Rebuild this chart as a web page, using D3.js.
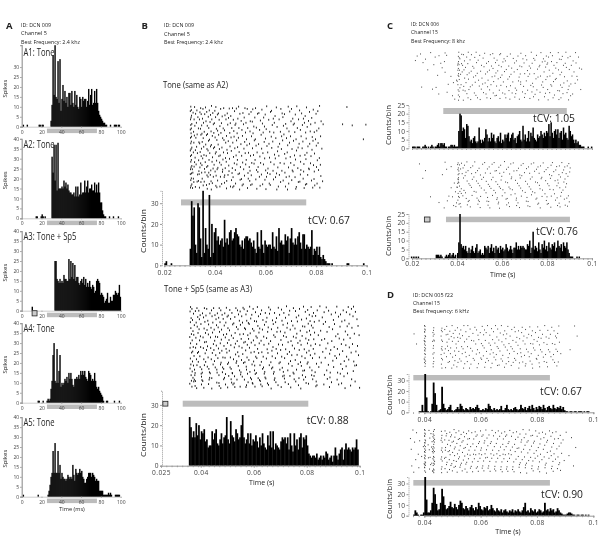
<!DOCTYPE html>
<html>
<head>
<meta charset="utf-8">
<title>Spike histograms</title>
<script src="https://cdnjs.cloudflare.com/ajax/libs/d3/7.8.5/d3.min.js"></script>
<style>
  html, body { margin: 0; background: #fff; }
  svg { display: block; filter: blur(0.4px); }
  text { font-family: "Open Sans", "Noto Sans", sans-serif; fill: #222; }
  .tick text { fill: #444; }
  .domain, .tick line { stroke: #999; }
</style>
</head>
<body>
<svg id="chart" width="602" height="540"></svg>
<script>
// Panel A: counts per 1 ms bin, 0-99 ms
var a1Counts = [0,1,0,0,0,1,0,0,0,0, 0,0,0,0,0,0,0,1,1,0, 1,1,0,0,0,0,0,0,0,3,
  11,36,16,41,15,14,33,12,34,8, 14,21,13,18,12,15,10,17,17,11, 18,12,10,18,11,16,10,9,15,14,
  10,15,13,14,14,10,13,19,11,16, 19,11,12,18,12,19,12,8,6,5, 4,3,2,2,1,1,0,0,0,1, 0,0,0,1,1,1,0,1,1,0];
var a2Counts = [0,0,0,0,0,0,0,0,0,0, 0,0,0,0,1,1,0,0,0,1, 2,1,0,1,0,0,0,0,0,0,
  31,23,37,19,37,14,38,15,15,15, 16,15,19,16,18,15,17,14,13,13, 12,12,13,11,16,11,16,11,12,18,
  12,13,13,19,13,16,19,13,15,15, 17,14,14,18,13,17,13,18,13,8, 8,4,2,1,1,0,0,0,1,0, 0,0,1,0,0,0,0,1,0,0];
var a3Counts = [0,0,0,0,0,0,0,0,0,0, 2,0,0,0,0,0,0,0,0,0, 0,0,0,0,0,0,0,0,0,0,
  0,0,0,25,25,16,15,14,16,14, 15,14,18,16,16,15,15,26,16,25, 17,24,16,23,15,17,17,14,13,15,
  16,14,17,13,16,12,14,12,15,12, 11,13,12,9,10,15,16,15,14,8, 9,8,7,4,5,6,9,4,4,7, 5,5,8,8,10,9,8,9,13,7];
var a4Counts = [0,0,0,0,0,0,0,0,0,0, 0,0,0,0,0,0,1,1,0,0, 0,1,0,0,0,1,2,1,2,7,
  11,24,30,11,10,27,10,16,24,8, 10,9,10,12,11,13,10,15,12,15, 12,9,8,12,12,13,12,14,12,16,
  14,16,14,16,13,12,11,16,15,14, 11,12,11,15,11,8,7,8,6,5, 4,3,1,0,0,1,1,0,0,0, 0,0,0,1,0,0,0,0,1,0];
var a5Counts = [0,1,0,0,0,0,0,0,0,0, 0,0,0,0,0,0,1,0,0,0, 0,0,0,0,0,0,1,3,6,10,
  12,23,12,27,12,12,23,12,16,9, 12,10,9,9,8,9,11,10,9,10, 9,16,11,8,14,12,11,12,14,12,
  13,10,9,7,7,9,10,12,12,12, 10,12,11,10,8,9,8,8,3,3, 3,3,1,1,1,1,1,2,1,2, 1,0,0,0,1,1,1,1,1,0];
var aStim = [25.5, 76];
var aTitles = ['A1: Tone', 'A2: Tone', 'A3: Tone + Sp5', 'A4: Tone', 'A5: Tone'];

// Panel B, C, D: counts per 0.5 ms bin
var bToneStart = 0.02;
var bToneCounts = [1,2,0,0,0,1,0,0,0,0, 0,0,0,0,0,0,0,0,0,0,
  8,31,24,28,10,6,30,28,13,4, 36,6,18,10,8,34,4,20,6,16,
  18,12,14,10,12,13,9,22,11,13, 10,16,17,12,13,16,18,15,14,10,
  9,12,8,13,14,14,12,13,11,9, 12,8,6,16,9,8,17,10,6,12,
  10,9,10,10,8,16,9,8,14,7, 18,11,12,10,10,15,12,14,6,13,
  18,11,10,13,10,14,16,11,8,15, 15,8,10,9,8,9,17,5,8,7,
  9,5,9,4,3,5,3,2,1,1, 1,0,1,0,0,0,0,0,0,0,
  0,0,0,0,1,1,0,0,0,0, 0,0,0,0,0,0,0,1,0,0];
var bSp5Start = 0.0355;
var bSp5Counts = [24,19,14,17,14,21,15,20,13,17, 16,18,12,13,9,10,10,17,13,16,
  18,11,10,13,16,11,14,15,24,13, 11,22,15,14,12,18,16,13,14,20,
  25,14,11,13,16,11,16,10,13,12, 15,12,9,14,10,16,11,9,8,15,
  10,17,9,17,8,11,10,9,8,12, 14,13,14,11,14,8,16,10,7,16,
  10,13,8,14,16,9,14,13,15,10, 6,5,4,5,5,4,6,3,4,5,
  3,5,4,7,6,3,4,5,2,5, 9,5,3,6,8,9,3,8,11,8, 9,8,7,9,8,9,13,8];
var cStart = 0.0195;
var cTopCounts = [0,1,1,1,0,1,1,1,0,0, 1,1,2,1,0,1,0,1,2,1, 0,1,1,2,3,1,3,3,2,3, 1,1,0,1,1,2,2,1,2,1, 1,1,
  10,20,19,10,12,11,6,14,13,7, 4,5,3,6,7,4,3,4,12,5, 3,5,4,6,11,8,4,6,4,9, 6,8,4,3,6,7,4,9,3,5,
  4,8,6,8,9,4,6,8,9,5, 6,3,7,8,10,5,4,13,5,8, 4,6,10,4,9,7,12,6,5,4, 8,6,7,10,8,6,9,7,10,9,
  14,7,15,9,6,10,11,8,11,6, 9,10,5,12,8,9,6,5,13,10, 7,8,5,3,5,3,4,2,2,1, 1,1,0,0,0,1,0,0,1];
var cBottomCounts = [1,0,1,0,1,0,1,0,0,0, 0,0,0,0,0,0,0,0,0,0, 0,0,2,2,2,1,2,1,0,0, 1,2,1,2,3,1,2,3,1,2, 0,3,
  9,25,8,6,7,5,7,4,3,6, 3,5,7,4,3,6,8,3,4,5, 2,3,2,7,6,5,7,3,6,8, 4,6,3,7,5,6,3,7,5,6,
  4,5,8,6,4,5,7,5,3,6, 6,9,5,7,5,7,6,7,6,5, 5,8,7,10,3,6,15,5,7,6, 4,9,5,3,8,6,10,5,7,4,
  9,6,5,8,7,9,4,6,10,7, 6,8,4,9,7,6,9,5,3,1, 1,1,0,0,0,1,0,1];
var dTopStart = 0.0375;
var dTopCounts = [0,1,1,7,1,36,14,1,0,1, 8,28,18,7,1,2,3,24,8,4, 2,3,5,7,2,1,2,3,5,3,
  8,6,3,2,4,3,2,5,3,4, 3,5,7,4,2,2,3,2,4,3, 8,6,3,2,4,2,3,2,3,6, 2,2,4,7,3,2,3,2,4,5,
  3,2,3,7,4,3,5,2,4,6, 3,7,4,2,5,3,6,5,3,7, 4,2,5,6,4,3,7,4,3,5, 4,6,3,5,2,1,1,0,1,1,
  0,1,1,0,1,1,1,0,1,0, 1,1,0,0,0];
var dBottomStart = 0.0355;
var dBottomCounts = [0,1,5,3,1,0,1,1,3,36, 15,3,3,5,12,26,20,11,5,6, 12,25,18,10,6,7,9,13,8,7,
  11,8,6,10,14,12,7,6,9,7, 5,8,10,7,5,8,6,12,9,6, 5,8,7,9,5,6,10,7,5,4, 7,5,4,6,3,5,6,4,3,5,
  4,6,3,5,4,6,4,3,5,8, 12,4,5,3,7,5,4,6,3,4, 6,5,3,4,12,5,6,4,7,5, 6,3,4,7,5,3,2,1,1,1,
  2,3,3,2,1,1,0,1,1,0, 1,1,0,1,0,1,0,0];

// Rasters: spike times per trial, in 0.1 ms
var bToneRaster = [
  [303,318,342,361,385,402,433,468,492,517,559,603,641,688,722,760,812,920],
  [305,327,351,376,398,421,455,483,526,548,584,622,659,701,733,787],
  [301,312,339,366,390,412,447,476,509,541,572,618,664,694,741,772,805],
  [306,322,344,358,381,408,438,461,497,533,567,597,636,673,716,755,798],
  [304,331,349,372,401,427,452,489,514,556,591,629,667,706,748,781],
  [302,316,337,363,386,415,442,471,502,538,578,611,652,699,729,768,818],
  [307,325,353,379,396,424,459,481,521,546,586,633,678,712,752,794],
  [303,319,346,368,392,418,449,478,511,552,594,625,669,708,744,777,826,903,941,995],
  [305,333,341,374,404,431,465,493,528,562,601,644,683,724,763,809],
  [301,314,356,383,409,436,473,505,537,575,615,657,691,736,775,801],
  [304,328,347,369,394,422,457,486,519,549,589,631,671,714,757,791],
  [306,317,343,365,388,413,444,474,507,543,581,621,662,697,739,783,816],
  [302,323,352,377,399,429,462,491,523,558,598,639,681,719,759,796,985],
  [305,335,348,373,406,434,451,484,516,554,593,627,666,709,746,786],
  [303,315,338,362,384,411,441,469,501,535,571,612,654,693,731,773,806],
  [307,326,354,381,397,426,458,488,525,561,604,648,686,727,766,799],
  [304,321,345,367,393,416,446,477,513,547,583,623,661,703,743,782,821],
  [301,313,340,371,403,432,463,494,531,565,607,646,684,721,762],
  [306,329,355,378,400,419,448,482,518,551,588,634,674,713,754,792],
  [302,320,344,364,389,414,440,472,504,539,576,614,651,696,735,778,811],
  [305,334,350,375,405,430,456,487,522,557,595,637,679,717,758,803],
  [303,318,342,360,387,417,443,475,508,544,579,619,656,698,737,776],
  [307,324,347,370,395,423,453,485,520,553,590,632,672,711,750,788,815],
  [304,316,339,366,391,410,439,467,499,534,569,608,647,689,726,769,800],
  [302,309,335,357,382,407,429,454,479,512,537,563,599,628,663,704,738,771,808],
  [306,311,346,359,374,399,428,466,495,529,568,606,642,675,707,749,791],
  [301,330,336,367,380,403,437,450,490,515,542,582,616,653,692,736,765,817],
  [305,313,348,371,392,420,435,470,503,530,574,602,638,680,715,747,790],
  [303,328,333,356,383,409,445,464,498,536,560,596,630,668,702,734,780,824],
  [307,315,343,376,388,425,436,480,510,545,587,613,658,690,728,761,802],
  [304,321,352,365,402,418,460,473,506,540,577,617,649,677,720,756,793],
  [302,310,337,368,384,406,444,469,496,527,564,600,643,685,718,751,785,813]
];
var bSp5Raster = [
  [360,384,412,447,468,495,531,558,583,612,655,691,722,748,786,815,848,872,912,955,975],
  [365,391,421,439,474,508,537,562,596,628,661,703,734,771,802,838,881,936,967],
  [358,378,405,433,461,489,516,547,574,605,642,677,712,756,793,824,864,907,948,982],
  [371,396,418,452,479,502,541,569,591,624,658,696,731,768,808,832,891,926,961],
  [362,387,409,441,466,498,527,553,587,616,648,684,718,759,797,819,857,918,973],
  [367,393,425,456,483,511,544,572,601,633,669,705,741,779,811,845,899,942,988],
  [359,381,414,444,471,493,523,556,578,609,645,681,726,763,804,827,869,931,958],
  [374,399,428,458,487,519,548,581,614,639,672,709,746,783,816,861,903,951,992],
  [361,385,411,437,464,501,533,564,594,621,653,689,724,754,791,822,883,924,969],
  [369,392,422,449,477,507,539,567,599,631,665,699,736,774,809,851,896,944],
  [363,388,416,443,469,496,528,559,585,618,651,686,716,761,799,828,875,916,978],
  [372,397,427,454,484,514,546,576,607,636,674,711,748,781,813,842,908,953,996],
  [357,380,407,435,462,491,521,551,579,611,647,679,721,758,795,825,866,921,962],
  [366,394,419,451,476,505,536,566,597,626,662,701,739,773,806,855,893,938],
  [360,383,413,446,472,499,529,561,589,619,655,692,728,765,801,831,878,929,971],
  [370,398,424,457,486,512,543,574,603,637,671,707,744,777,814,848,902,946,990],
  [358,379,408,436,465,494,525,554,582,613,649,683,719,752,789,823,871,914,959],
  [368,390,420,448,478,506,538,568,600,629,667,700,733,770,807,859,889,934,984],
  [364,386,415,442,470,497,530,557,588,617,652,688,725,762,798,829,885,922,966],
  [373,395,426,455,482,510,542,573,606,634,668,704,742,780,812,846,905,949,994],
  [359,382,410,438,463,490,522,552,580,610,646,680,715,755,792,820,868,911,957],
  [367,389,417,450,475,503,534,565,598,627,663,698,737,775,803,853,897,940,976],
  [361,384,412,445,473,500,532,560,592,622,657,694,730,766,800,835,880,927,986],
  [371,396,423,453,481,509,540,570,602,635,670,706,743,778,810,844,900,947,980],
  [358,375,402,429,459,485,513,545,571,601,632,666,697,727,760,790,818,874,933],
  [366,377,404,431,460,480,517,550,584,608,640,675,710,747,784,830,887,915,974],
  [362,376,400,434,467,492,518,549,575,604,638,673,713,750,782,817,865,925,952],
  [369,401,432,440,488,504,526,555,586,615,641,678,708,735,769,794,826,886,939],
  [363,374,403,430,485,513,535,563,590,620,644,676,714,751,787,821,876,913,968],
  [372,378,406,459,467,515,524,577,593,623,650,682,717,757,796,834,892,930,981],
  [357,377,401,428,468,492,520,571,595,625,654,690,729,767,805,837,863,919,964],
  [365,383,410,440,474,500,527,547,569,603,630,664,702,738,776,833,884,943,998]
];
var cTopRaster = [
  [236,281,345,406,419,448,483,521,557,592,635,682,728,771,813,848,882,925],
  [221,318,352,404,427,462,499,546,588,621,669,703,751,795,822,866,901],
  [258,301,408,411,441,477,514,563,607,648,691,739,782,805,853,891,938],
  [213,342,405,431,456,492,538,576,613,662,708,744,789,818,861,914],
  [247,326,403,418,446,485,529,569,602,654,696,732,777,801,842,879,927],
  [295,401,407,423,468,507,551,584,628,677,719,766,798,829,871,906],
  [332,404,436,473,518,558,595,641,686,725,763,792,837,884,942],
  [268,402,409,429,461,503,542,579,617,666,711,756,808,849,897,952],
  [345,405,421,452,488,533,571,609,652,699,741,785,824,863,918],
  [312,403,414,443,481,525,566,598,638,679,721,769,811,856,909],
  [371,406,432,471,509,554,591,631,674,714,758,799,839,876,931],
  [396,408,449,494,536,581,624,671,706,749,793,835,888,934],
  [382,399,438,479,523,561,604,646,681,734,779,827,873,923],
  [359,402,416,466,512,549,593,636,681,726,774,815,858,904],
  [241,305,411,428,457,497,534,574,618,657,694,737,781,819,865,896],
  [289,403,425,451,506,543,586,629,663,712,753,801,846,892,948],
  [354,407,434,475,516,559,601,643,689,731,767,810,854,887],
  [317,404,442,482,527,573,611,659,701,745,791,831,869,912],
  [378,409,447,489,531,567,615,655,698,738,787,825,860,903],
  [388,405,426,459,501,547,589,633,675,722,761,803,851,894]
];
var cBottomRaster = [
  [345,403,418,442,477,521,563,609,648,692,739,781,822,864,895],
  [231,401,409,431,468,512,554,592,637,683,728,769,816,853,888],
  [372,404,425,459,496,541,584,626,671,716,758,802,841,877,901],
  [258,352,402,414,447,489,533,573,618,664,707,751,794,837,872],
  [406,438,481,524,567,606,651,698,743,786,828,866,899],
  [333,403,407,421,463,502,546,588,632,677,721,763,809,851,883],
  [405,434,473,516,558,597,641,686,732,775,819,858,891],
  [246,402,404,427,466,508,551,594,639,679,724,772,813,846,878],
  [404,443,485,528,571,614,658,703,747,792,834,873],
  [386,401,406,451,492,537,579,623,667,711,756,801,848,885],
  [398,409,456,499,543,586,629,674,719,764,807,842,881],
  [372,399,417,462,506,549,591,634,681,726,767,811,855],
  [391,411,429,474,519,562,602,644,689,734,778,826,869],
  [403,417,436,483,527,569,611,656,701,744,789,831,862],
  [362,405,424,465,503,556,599,638,684,729,776,817,859,893],
  [280,378,408,439,487,534,577,621,662,709,753,798,843,886],
  [355,402,452,493,531,575,616,661,706,749,795,836,875],
  [318,396,412,448,497,539,583,627,669,714,761,804,852,897],
  [383,407,444,491,536,581,619,663,713,757,799,845,879],
  [341,393,415,457,501,544,587,631,676,722,768,815,856,889]
];
var dTopRaster = [
  [399,401,432,461,478,497,516,539,553,578,604,623,651,672,695,718,746,773,801,826,851,876,932],
  [400,402,431,459,471,489,508,528,561,584,612,637,659,684,709,733,758,782,809,837,859],
  [362,399,400,429,433,462,482,501,523,546,571,597,618,644,668,691,721,744,769,793,818,846,872],
  [401,403,430,458,476,494,517,534,557,589,609,631,656,679,703,727,752,779,804,831,864,941],
  [398,400,432,460,486,504,526,549,566,592,615,641,663,688,713,737,763,788,813,841,868],
  [400,401,428,434,463,479,498,519,541,574,601,628,649,674,699,724,749,776,799,823,853,878],
  [371,399,402,431,461,481,511,531,552,581,606,633,657,681,706,731,756,784,807,834,862],
  [400,403,430,459,473,492,513,536,563,587,611,636,661,686,711,739,761,786,811,839,866,916],
  [399,401,433,462,484,506,521,544,569,594,619,643,667,693,717,741,767,791,816,844,871],
  [400,402,429,458,469,491,509,533,558,583,608,632,654,677,701,729,754,778,803,829,857,883],
  [398,401,431,460,477,499,524,547,572,599,621,646,671,696,719,743,771,796,821,848],
  [400,403,432,463,488,507,529,551,576,602,626,652,676,698,723,748,774,798,824,855,874],
  [399,402,430,459,483,503,518,542,564,591,616,639,664,689,714,736,759,781,806,833,861],
  [401,430,461,474,496,514,538,559,586,613,635,658,683,707,734,757,783,808,836,869]
];
var dBottomRaster = [
  [358,399,401,415,431,434,459,472,489,504,521,538,556,579,598,617,639,661,684,702,726,749,771,794,818,843,866,902],
  [371,400,402,422,430,433,461,478,495,511,529,548,567,586,607,628,651,673,691,714,738,759,783,806,829,854,881],
  [349,399,400,418,429,432,460,476,492,507,524,541,559,582,603,621,644,666,687,708,731,753,777,799,823,848,874,921],
  [382,401,403,426,431,435,458,471,486,502,519,536,553,574,594,613,636,658,679,699,722,744,767,789,812,836,861,891],
  [364,400,401,412,432,434,462,481,497,514,532,551,571,591,611,633,654,677,696,719,742,763,786,809,833,857,884],
  [395,399,402,424,430,433,461,474,491,508,526,544,563,584,601,624,647,669,689,711,734,756,779,803,826,851,877,936],
  [352,400,403,416,428,431,459,473,488,505,522,539,557,578,599,619,641,663,682,704,728,751,773,796,821,846,869],
  [377,399,401,427,430,434,463,483,499,516,534,552,573,593,614,635,656,678,698,721,743,766,788,811,835,859,886],
  [389,400,402,419,431,433,460,475,490,506,523,542,561,581,602,622,645,667,686,707,732,754,776,801,824,849,873,912],
  [368,399,401,413,429,432,458,470,487,503,520,537,555,576,596,616,638,659,681,701,724,746,769,792,816,841,864,895],
  [398,401,403,425,432,435,462,479,496,512,530,549,569,589,609,631,653,674,694,716,739,761,784,807,831,855,879],
  [354,400,402,421,430,434,461,477,493,509,527,546,565,587,606,627,649,671,692,713,736,758,781,804,828,852,876,928],
  [379,399,400,417,431,433,459,472,488,504,525,543,562,583,604,625,648,670,690,712,735,757,780,802,827,850,871],
  [361,400,403,428,429,432,460,480,498,515,533,550,570,590,610,632,652,675,695,717,740,762,785,808,832,856,882]
];

var svg = d3.select('#chart');

// Axis labels, titles etc. width pins the text to what the picture shows
function label(x, y, str, size, width, opts) {
  opts = opts || {};
  var t = svg.append('text')
    .attr('x', x).attr('y', y)
    .attr('font-size', size)
    .attr('text-anchor', opts.anchor || 'start')
    .attr('font-weight', opts.bold ? 700 : 400)
    .text(str);
  if (width) t.attr('textLength', width).attr('lengthAdjust', 'spacingAndGlyphs');
  if (opts.rotate) t.attr('transform', 'rotate(-90 ' + x + ' ' + y + ')');
  return t;
}

function infoBlock(letter, lx, ly, x, ys, lines, widths) {
  label(lx, ly, letter, 9.5, 0, {bold: true});
  lines.forEach(function(line, i) {
    label(x, ys[i], line, 5.4, widths[i]);
  });
}

function drawBars(g, counts, start, bin, x, y) {
  g.selectAll('rect.bar')
    .data(counts.map(function(c, i) { return {c: c, t: start + i * bin}; }).filter(function(d) { return d.c > 0; }))
    .enter().append('rect')
    .attr('class', 'bar')
    .attr('x', function(d) { return x(d.t); })
    .attr('width', x(start + bin) - x(start) + 0.4)
    .attr('y', function(d) { return y(d.c); })
    .attr('height', function(d) { return y(0) - y(d.c); })
    .attr('fill', '#000');
}

function drawStim(stim, x, top, height) {
  svg.append('rect')
    .attr('x', x(stim[0])).attr('width', x(stim[1]) - x(stim[0]))
    .attr('y', top).attr('height', height)
    .attr('fill', '#bcbcbc');
}

function drawMarker(t0, t1, x, top, height) {
  svg.append('rect')
    .attr('x', x(t0)).attr('width', x(t1) - x(t0))
    .attr('y', top).attr('height', height)
    .attr('fill', '#ccc').attr('stroke', '#222').attr('stroke-width', 0.8);
}

// Trial rows are closer than the lists suggest, so spread each row a bit by spike time
function drawRaster(rows, x, top, bottom, color, dotH) {
  var rowY = d3.scaleLinear().domain([0, rows.length]).range([top, bottom]);
  var step = rowY(1) - rowY(0);
  var spikes = [];
  rows.forEach(function(times, r) {
    times.forEach(function(v) {
      spikes.push({t: v / 10000, y: rowY(r) + (v % 7) * step / 7});
    });
  });
  svg.append('g').selectAll('rect')
    .data(spikes)
    .enter().append('rect')
    .attr('x', function(d) { return x(d.t); })
    .attr('y', function(d) { return d.y; })
    .attr('width', 0.9).attr('height', dotH)
    .attr('fill', color);
}

// Panel A histogram: ms axis, 5-spike ticks
var aX = d3.scaleLinear().domain([0, 100]).range([21.7, 120.7]);
var aTicksX = [0, 20, 40, 60, 80, 100];

function panelA(counts, baseline, title, titleWidth, yTicks, yMax, stimTop) {
  var y = d3.scaleLinear().domain([0, 40]).range([baseline, baseline - 79.5]);
  drawStim(aStim, aX, stimTop, 4.5);
  var g = svg.append('g');
  drawBars(g, counts, 0, 1, aX, y);
  var ya = svg.append('g').attr('transform', 'translate(21.7,0)')
    .call(d3.axisLeft(d3.scaleLinear().domain([0, yMax]).range([y(0), y(yMax)])).tickValues(yTicks).tickSize(1.5).tickPadding(1));
  ya.selectAll('text').attr('font-size', 5);
  ya.select('.domain').attr('stroke', '#bbb').attr('stroke-width', 1.2);
  var xa = svg.append('g').attr('transform', 'translate(0,' + baseline + ')')
    .call(d3.axisBottom(aX).tickValues(aTicksX).tickSize(1).tickPadding(2.5));
  xa.selectAll('text').attr('font-size', 5);
  xa.select('.domain').attr('stroke', '#555').attr('stroke-width', 0.5);
  label(23.5, baseline - 70.5, title, 10.5, titleWidth);
  label(7.5, baseline - 38, 'Spikes', 6, 0, {anchor: 'middle', rotate: true});
  return y;
}

// Panel B, C, D histogram with light axes and minor ticks
function panelHist(p) {
  var x = p.x, y = p.y;
  if (p.stim) drawStim(p.stim, x, p.stimTop, p.stimH);
  var g = svg.append('g');
  drawBars(g, p.counts, p.start, 0.0005, x, y);
  var minor = d3.range(p.minorFrom, 0.1001, 0.002);
  var xa = svg.append('g').attr('transform', 'translate(0,' + y(0) + ')')
    .call(d3.axisBottom(x).tickValues(minor).tickSize(1.5).tickFormat(''));
  xa.select('.domain').attr('stroke', '#aaa');
  if (p.xTicks) {
    var xl = svg.append('g').attr('transform', 'translate(0,' + y(0) + ')')
      .call(d3.axisBottom(x).tickValues(p.xTicks).tickSize(2).tickPadding(p.labelPad).tickFormat(function(d) {
        return String(+d.toFixed(3));
      }));
    xl.selectAll('text').attr('font-size', 6.6).attr('letter-spacing', 0.4);
    xl.select('.domain').remove();
  }
  var ya = svg.append('g').attr('transform', 'translate(' + p.axisX + ',0)')
    .call(d3.axisLeft(y).tickValues(p.yTicks).tickSize(2).tickPadding(1.5));
  ya.selectAll('text').attr('font-size', p.yFont || 6.6);
  ya.select('.domain').attr('stroke', '#aaa').attr('stroke-dasharray', '1 1');
  label(p.ylabelX, p.ylabelY, 'Counts/bin', 8, p.ylabelW, {anchor: 'middle', rotate: true});
  label(p.tcvX, p.tcvY, p.tcv, 10.5, 42);
  if (p.timeX) label(p.timeX, p.timeY, 'Time (s)', 7, 0, {anchor: 'middle'});
}

// Panel A
infoBlock('A', 6, 29, 21, [27, 35, 44], ['ID: DCN 009', 'Channel 5', 'Best Frequency: 2.4 khz'], [30, 26, 59]);
var aTick30 = d3.range(0, 31, 5), aTick40 = d3.range(0, 41, 5);
panelA(a1Counts, 126.7, aTitles[0], 31, aTick30, 41, 128.6);
panelA(a2Counts, 218.3, aTitles[1], 31, aTick40, 40, 220.6);
var a3Y = panelA(a3Counts, 310.7, aTitles[2], 53, aTick40, 40, 312.7);
drawMarker(10.5, 15.5, aX, a3Y(0), 5.2);
panelA(a4Counts, 402.7, aTitles[3], 31, aTick40, 40, 404.5);
panelA(a5Counts, 496.7, aTitles[4], 31, aTick40, 40, 498.6);
label(72, 511, 'Time (ms)', 5.6, 0, {anchor: 'middle'});

// Panel B
infoBlock('B', 141.5, 29, 164, [27, 36, 44], ['ID: DCN 009', 'Channel 5', 'Best Frequency: 2.4 khz'], [30, 26, 59]);
label(163, 88, 'Tone (same as A2)', 9, 65);
label(164, 292, 'Tone + Sp5 (same as A3)', 9, 88);

var bToneX = d3.scaleLinear().domain([0.02, 0.1]).range([164.3, 366.7]);
drawRaster(bToneRaster, bToneX, 105, 189, '#111', 1.8);
panelHist({
  x: bToneX, y: d3.scaleLinear().domain([0, 36]).range([265.3, 190.8]),
  counts: bToneCounts, start: bToneStart, stim: [0.0266, 0.0761], stimTop: 199.4, stimH: 6,
  minorFrom: 0.02, xTicks: [0.02, 0.04, 0.06, 0.08, 0.1], labelPad: 3.5, axisX: 162,
  yTicks: [0, 10, 20, 30], ylabelX: 146, ylabelY: 231, ylabelW: 44,
  tcv: 'tCV: 0.67', tcvX: 308, tcvY: 224
});

var bSp5X = d3.scaleLinear().domain([0.025, 0.1]).range([161, 359.7]);
drawRaster(bSp5Raster, bSp5X, 305, 388, '#000', 1.8);
panelHist({
  x: bSp5X, y: d3.scaleLinear().domain([0, 37]).range([465.7, 390.7]),
  counts: bSp5Counts, start: bSp5Start, stim: [0.0332, 0.0806], stimTop: 400.7, stimH: 6,
  minorFrom: 0.025, xTicks: [0.025, 0.04, 0.06, 0.08, 0.1], labelPad: 3, axisX: 162,
  yTicks: [0, 10, 20, 30], ylabelX: 146, ylabelY: 435, ylabelW: 44,
  tcv: 'tCV: 0.88', tcvX: 306.7, tcvY: 424, timeX: 261.7, timeY: 485
});
drawMarker(0.0257, 0.0276, bSp5X, 401.3, 4.8);

// Panel C
infoBlock('C', 387, 29, 411, [26, 34, 43], ['ID: DCN 006', 'Channel 15', 'Best Frequency: 8 khz'], [28, 27, 54]);
var cX = d3.scaleLinear().domain([0.02, 0.1]).range([412, 592]);
drawRaster(cTopRaster, cX, 51.7, 100, '#444', 1.1);
panelHist({
  x: cX, y: d3.scaleLinear().domain([0, 25]).range([148.3, 105]),
  counts: cTopCounts, start: cStart, stim: [0.0339, 0.0888], stimTop: 108, stimH: 6,
  minorFrom: 0.02, axisX: 408.5,
  yTicks: [0, 5, 10, 15, 20, 25], ylabelX: 391, ylabelY: 125, ylabelW: 40,
  tcv: 'tCV: 1.05', tcvX: 533, tcvY: 122
});
drawRaster(cBottomRaster, cX, 161, 208, '#444', 1.1);
panelHist({
  x: cX, y: d3.scaleLinear().domain([0, 25]).range([258.3, 214]),
  counts: cBottomCounts, start: cStart, stim: [0.0351, 0.0902], stimTop: 216.7, stimH: 5.5,
  minorFrom: 0.02, xTicks: [0.02, 0.04, 0.06, 0.08, 0.1], labelPad: 1.5, axisX: 408.5,
  yTicks: [0, 5, 10, 15, 20, 25], ylabelX: 391, ylabelY: 236, ylabelW: 40,
  tcv: 'tCV: 0.76', tcvX: 536, tcvY: 234.7, timeX: 502.7, timeY: 276.5
});
drawMarker(0.0255, 0.028, cX, 217, 5);

// Panel D
infoBlock('D', 387, 298, 413, [297, 305, 313], ['ID: DCN 005 f22', 'Channel 15', 'Best frequency: 6 kHz'], [40, 27, 56]);
var dX = d3.scaleLinear().domain([0.04, 0.1]).range([424.3, 593.3]);
drawRaster(dTopRaster, dX, 325, 368, '#444', 1.1);
panelHist({
  x: dX, y: d3.scaleLinear().domain([0, 36]).range([412.3, 374]),
  counts: dTopCounts, start: dTopStart, stim: [0.0361, 0.0846], stimTop: 375, stimH: 5.4,
  minorFrom: 0.036, xTicks: [0.04, 0.06, 0.08, 0.1], labelPad: 2.7, axisX: 408.5,
  yTicks: [0, 10, 20, 30], ylabelX: 391.5, ylabelY: 395, ylabelW: 40,
  tcv: 'tCV: 0.67', tcvX: 540, tcvY: 395
});
drawRaster(dBottomRaster, dX, 429, 473, '#333', 1.1);
panelHist({
  x: dX, y: d3.scaleLinear().domain([0, 36]).range([515.7, 477]),
  counts: dBottomCounts, start: dBottomStart, stim: [0.0361, 0.0846], stimTop: 480, stimH: 5.6,
  minorFrom: 0.036, xTicks: [0.04, 0.06, 0.08, 0.1], labelPad: 2.7, axisX: 408.5,
  yTicks: [0, 10, 20, 30], ylabelX: 391.5, ylabelY: 499, ylabelW: 40,
  tcv: 'tCV: 0.90', tcvX: 541, tcvY: 497.7, timeX: 508, timeY: 534
});
</script>
</body>
</html>
